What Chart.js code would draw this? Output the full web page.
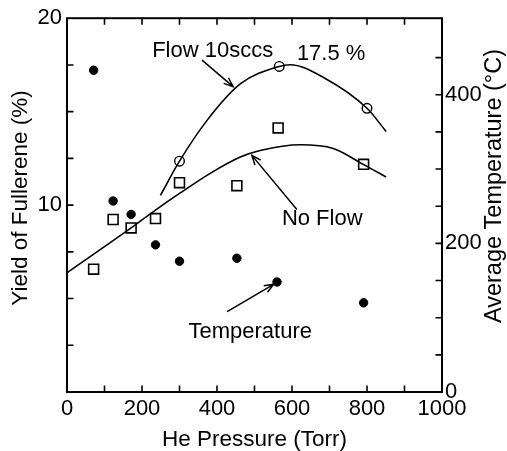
<!DOCTYPE html>
<html>
<head>
<meta charset="utf-8">
<script src="https://cdn.jsdelivr.net/npm/chart.js@4/dist/chart.umd.min.js"></script>
<style>
  html, body { margin: 0; padding: 0; background: #fff; }
  #wrap { width: 507px; height: 451px; }
</style>
</head>
<body>
<div id="wrap"><canvas id="c" width="507" height="451"></canvas></div>
<script>
// ---- data ----
const pressureNoFlow = [71, 123, 171, 236, 300, 453, 563, 791];
const yieldNoFlow    = [6.57, 9.23, 8.78, 9.28, 11.2, 11.04, 14.13, 12.18];

const pressureFlow = [300, 566, 800];
const yieldFlow    = [12.35, 17.42, 15.18];

const pressureTemp = [71, 123, 171, 236, 300, 453, 560, 791];
const temperature  = [433, 257, 239, 198, 176, 180, 148, 120];

// hand-drawn fit curves
const flowCurveP   = [249, 300, 373, 462, 566, 595, 684, 800, 851];
const flowCurveY   = [10.52, 12.35, 14.52, 16.48, 17.42, 17.51, 16.83, 15.18, 13.94];
const noFlowCurveP = [0, 171, 235, 302, 382, 462, 515, 622, 710, 790, 851];
const noFlowCurveY = [6.38, 8.78, 9.72, 10.65, 11.70, 12.57, 12.92, 13.23, 13.03, 12.18, 11.50];

const xTickLabels  = [0, 200, 400, 600, 800, 1000];
const yTickLabels  = [10, 20];
const y2TickLabels = [0, 200, 400];

const xTitle  = 'He Pressure (Torr)';
const yTitle  = 'Yield of Fullerene (%)';
const y2Title = 'Average Temperature (°C)';

// annotations: [text, x, y] in data units (left axis)
const notes = [
  ['Flow 10sccs', 227, 17.94],
  ['17.5 %', 613, 17.78],
  ['No Flow', 573, 8.92],
  ['Temperature', 324, 2.90]
];
// arrows: [x0, y0, x1(head), y1(head)] in data units (left axis)
const arrows = [
  [360, 17.76, 443, 16.34],
  [613, 9.76, 493, 12.66],
  [427, 4.30, 551, 5.76]
];

const FONT = '"Liberation Sans", Arial, Helvetica, sans-serif';
const pts = (xs, ys) => xs.map((x, i) => ({x: x, y: ys[i]}));

const framePlugin = {
  id: 'frame',
  afterDraw(chart) {
    const {ctx, chartArea: a, scales} = chart;
    ctx.save();
    ctx.strokeStyle = '#000';
    ctx.lineWidth = 2;
    ctx.strokeRect(a.left, a.top, a.right - a.left, a.bottom - a.top);
    ctx.lineWidth = 1.6;
    const L = 6.5;
    ctx.beginPath();
    scales.x.ticks.forEach(t => {
      if (t.value <= 0 || t.value >= 1000) return;
      const px = scales.x.getPixelForValue(t.value);
      ctx.moveTo(px, a.bottom); ctx.lineTo(px, a.bottom - L);
      ctx.moveTo(px, a.top); ctx.lineTo(px, a.top + L);
    });
    scales.y.ticks.forEach(t => {
      if (t.value <= 0 || t.value >= 20) return;
      const py = scales.y.getPixelForValue(t.value);
      ctx.moveTo(a.left, py); ctx.lineTo(a.left + L, py);
    });
    scales.y2.ticks.forEach(t => {
      if (t.value <= 0 || t.value % 50 !== 0) return;
      const py = scales.y2.getPixelForValue(t.value);
      ctx.moveTo(a.right, py); ctx.lineTo(a.right - L, py);
    });
    ctx.stroke();

    // annotations
    ctx.fillStyle = '#000';
    ctx.font = '22px ' + FONT;
    ctx.textAlign = 'left';
    ctx.textBaseline = 'alphabetic';
    notes.forEach(n => {
      ctx.fillText(n[0], scales.x.getPixelForValue(n[1]), scales.y.getPixelForValue(n[2]));
    });
    ctx.lineWidth = 1.5;
    arrows.forEach(r => {
      const x0 = scales.x.getPixelForValue(r[0]), y0 = scales.y.getPixelForValue(r[1]);
      const x1 = scales.x.getPixelForValue(r[2]), y1 = scales.y.getPixelForValue(r[3]);
      const ang = Math.atan2(y1 - y0, x1 - x0);
      const h = 10, sp = 0.38;
      ctx.beginPath();
      ctx.moveTo(x0, y0); ctx.lineTo(x1, y1);
      ctx.moveTo(x1 - h * Math.cos(ang - sp), y1 - h * Math.sin(ang - sp));
      ctx.lineTo(x1, y1);
      ctx.lineTo(x1 - h * Math.cos(ang + sp), y1 - h * Math.sin(ang + sp));
      ctx.stroke();
    });

    // axis titles for the two vertical axes (both read bottom to top)
    ctx.textAlign = 'center';
    ctx.textBaseline = 'middle';
    ctx.save();
    ctx.translate(21, 198);
    ctx.rotate(-Math.PI / 2);
    ctx.font = '22.5px ' + FONT;
    ctx.fillText(yTitle, 0, 0);
    ctx.restore();
    ctx.save();
    ctx.translate(495, 186);
    ctx.rotate(-Math.PI / 2);
    ctx.font = '23.5px ' + FONT;
    ctx.fillText(y2Title, 0, 0);
    ctx.restore();
    ctx.restore();
  }
};

const noGrid = { display: false, drawTicks: false, tickLength: 0 };

new Chart(document.getElementById('c'), {
  type: 'scatter',
  data: {
    datasets: [
      { label: 'Flow 10sccs fit', data: pts(flowCurveP, flowCurveY), showLine: true,
        borderColor: '#000', borderWidth: 1.6, pointRadius: 0, cubicInterpolationMode: 'monotone', yAxisID: 'y' },
      { label: 'No Flow fit', data: pts(noFlowCurveP, noFlowCurveY), showLine: true,
        borderColor: '#000', borderWidth: 1.6, pointRadius: 0, cubicInterpolationMode: 'monotone', yAxisID: 'y' },
      { label: 'No Flow', data: pts(pressureNoFlow, yieldNoFlow), pointStyle: 'rect', pointRadius: 7,
        borderColor: '#000', borderWidth: 1.6, backgroundColor: '#fff', yAxisID: 'y' },
      { label: 'Flow 10sccs', data: pts(pressureFlow, yieldFlow), pointStyle: 'circle', pointRadius: 4.8,
        borderColor: '#000', borderWidth: 1.4, backgroundColor: '#fff', yAxisID: 'y' },
      { label: 'Temperature', data: pts(pressureTemp, temperature), pointStyle: 'circle', pointRadius: 4.2,
        borderColor: '#000', borderWidth: 1, backgroundColor: '#000', yAxisID: 'y2' }
    ]
  },
  options: {
    responsive: false,
    devicePixelRatio: 1,
    animation: false,
    events: [],
    layout: { padding: { top: 17, left: 0, right: 0, bottom: 0 } },
    plugins: { legend: { display: false }, tooltip: { enabled: false } },
    scales: {
      x: {
        type: 'linear', position: 'bottom', min: 0, max: 1000,
        grid: noGrid, border: { display: false },
        ticks: { stepSize: 100, autoSkip: false, maxRotation: 0, padding: 4, color: '#000',
                 font: { family: FONT, size: 22 },
                 callback: v => xTickLabels.includes(v) ? String(v) : '' },
        title: { display: true, text: xTitle, color: '#000', font: { family: FONT, size: 22.5, lineHeight: 1 },
                 padding: { top: 0, bottom: 0 } },
        afterFit: s => { s.height = 59; }
      },
      y: {
        type: 'linear', position: 'left', min: 0, max: 20,
        grid: noGrid, border: { display: false },
        ticks: { stepSize: 2.5, autoSkip: false, padding: 5, color: '#000',
                 font: { family: FONT, size: 22 },
                 callback: v => yTickLabels.includes(v) ? String(v) : '' },
        afterFit: s => { s.width = 67; }
      },
      y2: {
        type: 'linear', position: 'right', min: 0, max: 503,
        grid: noGrid, border: { display: false },
        ticks: { stepSize: 50, autoSkip: false, padding: 3, color: '#000',
                 font: { family: FONT, size: 22 },
                 callback: v => y2TickLabels.includes(v) ? String(v) : '' },
        afterFit: s => { s.width = 65; }
      }
    }
  },
  plugins: [framePlugin]
});
</script>
</body>
</html>
